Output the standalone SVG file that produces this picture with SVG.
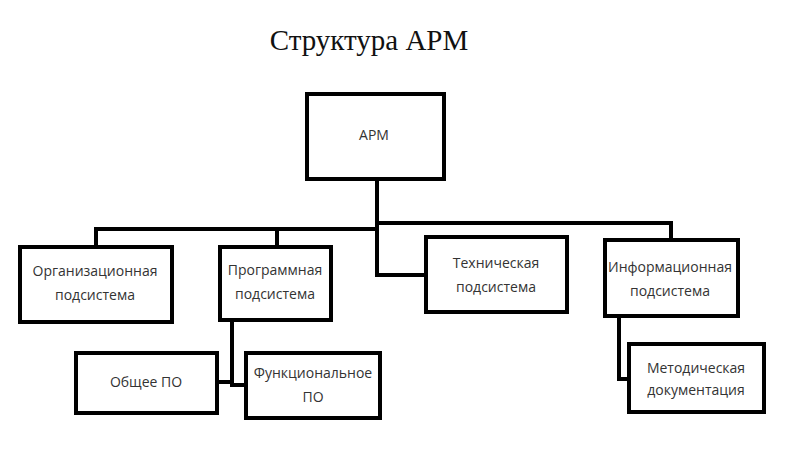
<svg xmlns="http://www.w3.org/2000/svg" width="800" height="450" viewBox="0 0 800 450">
<style>
.box{fill:#fff;stroke:#000;stroke-width:4}
.lbl{font-family:"Open Sans","DejaVu Sans",sans-serif;font-size:14px;fill:#333;text-anchor:middle}
.conn{fill:none;stroke:#000;stroke-width:4;stroke-linejoin:miter}
.title{font-family:"Liberation Serif","Times New Roman",serif;font-size:29px;fill:#111;text-anchor:middle}
</style>
<rect width="800" height="450" fill="#fff"/>
<text class="title" x="369" y="50">Структура АРМ</text>
<g id="connectors">
<path class="conn" d="M377 179 V275 H426"/>
<path class="conn" d="M377 223 H671 V240"/>
<path class="conn" d="M377 229 H96 V247"/>
<path class="conn" d="M277 229 V247"/>
<path class="conn" d="M232 320 V385 H246"/>
<path class="conn" d="M217 382 H232"/>
<path class="conn" d="M619 316 V379 H629"/>
</g>
<g id="arm">
<rect class="box" x="307" y="94" width="137" height="85"/>
<text class="lbl" x="374" y="140">АРМ</text>
</g>
<g id="org">
<rect class="box" x="20" y="247" width="152" height="75"/>
<text class="lbl" x="95" y="276">Организационная</text>
<text class="lbl" x="95" y="300">подсистема</text>
</g>
<g id="prog">
<rect class="box" x="220" y="247" width="111" height="73"/>
<text class="lbl" x="275" y="275">Программная</text>
<text class="lbl" x="275" y="299">подсистема</text>
</g>
<g id="tech">
<rect class="box" x="426" y="237" width="141" height="75"/>
<text class="lbl" x="496" y="268">Техническая</text>
<text class="lbl" x="496" y="292">подсистема</text>
</g>
<g id="info">
<rect class="box" x="605" y="240" width="133" height="76"/>
<text class="lbl" x="670" y="272">Информационная</text>
<text class="lbl" x="670" y="296">подсистема</text>
</g>
<g id="general">
<rect class="box" x="76" y="353" width="141" height="60"/>
<text class="lbl" x="146" y="387">Общее ПО</text>
</g>
<g id="func">
<rect class="box" x="246" y="353" width="134" height="65"/>
<text class="lbl" x="313" y="378">Функциональное</text>
<text class="lbl" x="313" y="402">ПО</text>
</g>
<g id="method">
<rect class="box" x="629" y="344" width="135" height="68"/>
<text class="lbl" x="696" y="373">Методическая</text>
<text class="lbl" x="696" y="395">документация</text>
</g>
</svg>
